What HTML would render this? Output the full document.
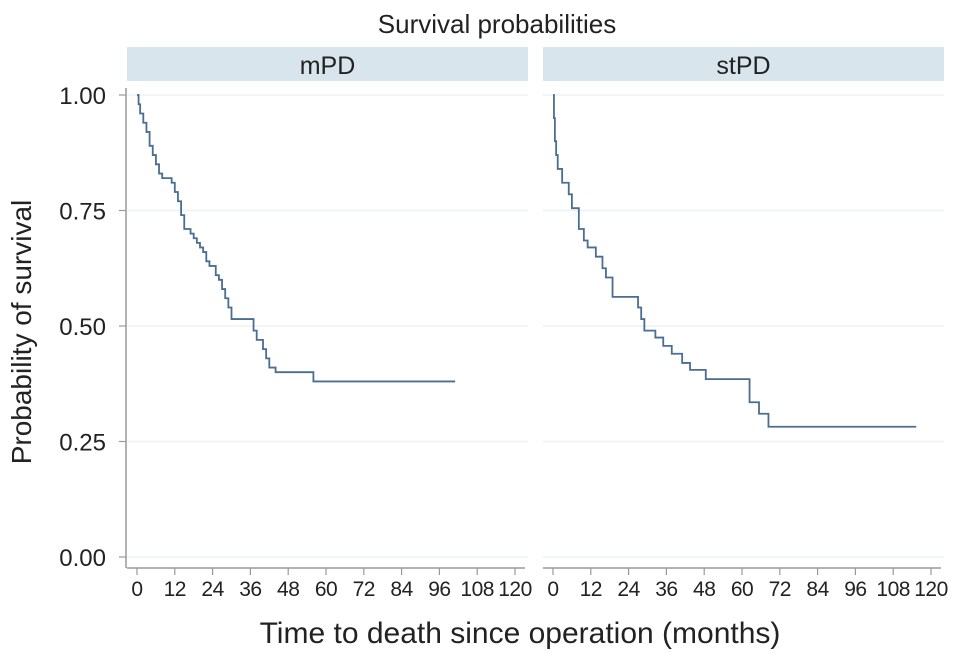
<!DOCTYPE html>
<html><head><meta charset="utf-8"><style>
body{margin:0;background:#fff;}
svg{display:block;font-family:"Liberation Sans",sans-serif;}
</style></head><body>
<svg id="chart" width="969" height="662" viewBox="0 0 969 662">
<text x="497" y="33" text-anchor="middle" font-size="26" fill="#222">Survival probabilities</text>
<text transform="translate(31,332) rotate(-90)" text-anchor="middle" font-size="28" fill="#222">Probability of survival</text>
<text x="520" y="643" text-anchor="middle" font-size="30" fill="#222">Time to death since operation (months)</text>
<g id="panels"></g>
</svg>
<script>
const panelNames = ["mPD", "stPD"];
const xTicks = [0,12,24,36,48,60,72,84,96,108,120];
const yTicks = [0,0.25,0.5,0.75,1];
const yTickLabels = ["0.00","0.25","0.50","0.75","1.00"];
const mpdTimes = [0,0.5,1,2,3,4,5,6,7,8,11,12,13,14,15,17,18,19,20,21,22,23,25,26,27,28,29,30,37,38,40,41,42,44,56];
const mpdSurv  = [1,.98,.96,.94,.92,.89,.87,.85,.83,.82,.81,.79,.77,.74,.71,.70,.69,.68,.67,.66,.64,.63,.61,.60,.58,.56,.54,.515,.49,.47,.45,.43,.41,.40,.38];
const mpdEnd = 101;
const stpdTimes = [0,0.3,0.6,1,1.5,2.9,5,6,8.2,9.8,11,13.6,15.7,16.8,18.9,27,28,29,32.5,35,37.7,41,43.5,48.5,62.4,65.4,68.4];
const stpdSurv  = [1,.95,.90,.87,.84,.81,.785,.755,.71,.685,.67,.65,.625,.605,.563,.54,.515,.49,.475,.457,.44,.42,.405,.385,.335,.31,.282];
const stpdEnd = 115.3;
const series = [[mpdTimes,mpdSurv,mpdEnd],[stpdTimes,stpdSurv,stpdEnd]];

const NS="http://www.w3.org/2000/svg";
const g=document.getElementById('panels');
const panelX=[127,543], panelW=401;
const y0=557, y1=95;
function yScale(p){return y0-(y0-y1)*p;}
function mk(tag,attrs,parent){const e=document.createElementNS(NS,tag);for(const k in attrs)e.setAttribute(k,attrs[k]);(parent||g).appendChild(e);return e;}
panelNames.forEach((name,pi)=>{
  const px=panelX[pi];
  const x0=px+10, xEnd=px+388;
  const xScale=t=>x0+(xEnd-x0)*t/120;
  const strip=mk('rect',{x:px,y:47,width:panelW,height:34,fill:'#d8e5ec'});
  
  
  const st=mk('text',{x:px+panelW/2,y:74,'text-anchor':'middle','font-size':25,fill:'#222'});
  st.textContent=name;
  
  
  yTicks.forEach(v=>{
    const gl=mk('line',{x1:px,x2:px+panelW,y1:yScale(v),y2:yScale(v),stroke:'#eef2f5','stroke-width':1.5});
    
    
  });
  const xa=mk('line',{x1:px,x2:px+panelW-3,y1:568,y2:568,stroke:'#999','stroke-width':1.5});
  
  
  xTicks.forEach(t=>{
    const tk=mk('line',{x1:xScale(t),x2:xScale(t),y1:568,y2:575,stroke:'#999','stroke-width':1.2});
    
    
    const tl=mk('text',{x:xScale(t),y:596,'text-anchor':'middle','font-size':21,fill:'#222','letter-spacing':'-0.5'});
    tl.textContent=t;
    
    
  });
  const [ts,ss,end]=series[pi];
  let d='M'+xScale(ts[0])+','+yScale(ss[0]);
  for(let i=1;i<ts.length;i++){d+=' H'+xScale(ts[i])+' V'+yScale(ss[i]);}
  d+=' H'+xScale(end);
  const path=mk('path',{d:d,fill:'none',stroke:'#4a6d92','stroke-width':1.8});
  
  
});
const ya=mk('line',{x1:126,x2:126,y1:88,y2:568,stroke:'#999','stroke-width':1.5});


yTicks.forEach((v,i)=>{
  const tk=mk('line',{x1:119,x2:126,y1:yScale(v),y2:yScale(v),stroke:'#999','stroke-width':1.2});
  
  
  const tl=mk('text',{x:106,y:yScale(v)+9,'text-anchor':'end','font-size':24,fill:'#222'});
  tl.textContent=yTickLabels[i];
  
  
});
</script>
</body></html>
